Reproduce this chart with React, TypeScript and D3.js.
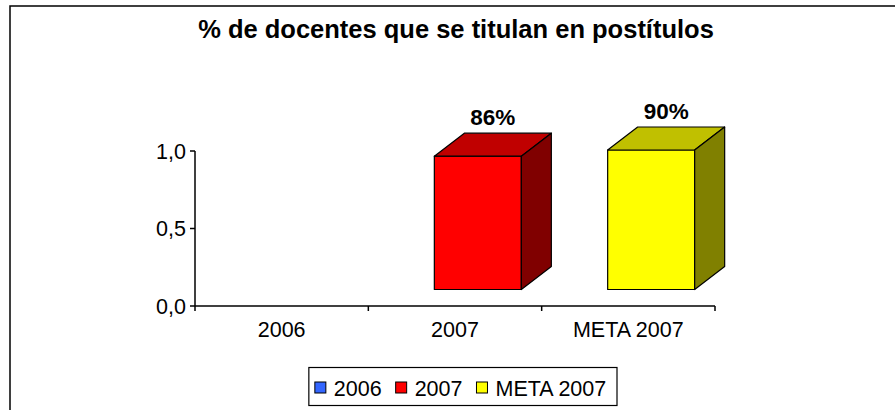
import React from "react";
import * as d3 from "d3";

const categories = ["2006", "2007", "META 2007"];
const values: (number | null)[] = [null, 0.86, 0.9];
const valueLabels = ["", "86%", "90%"];
const yTicks = [0, 0.5, 1.0];
const yTickLabels = ["0,0", "0,5", "1,0"];
const frontColors = ["#3366FF", "#FF0000", "#FFFF00"];
const topColors = ["#2050C0", "#C00000", "#C0C000"];
const sideColors = ["#183a90", "#800000", "#808000"];
const title = "% de docentes que se titulan en postítulos";

const W = 895;
const H = 410;
const FONT = "'Liberation Sans', Arial, Helvetica, sans-serif";

const charW: Record<string, number> = {
  "0": 0.556, "1": 0.556, "2": 0.556, "3": 0.556, "4": 0.556, "5": 0.556,
  "6": 0.556, "7": 0.556, "8": 0.556, "9": 0.556, " ": 0.278,
  M: 0.833, E: 0.667, T: 0.611, A: 0.667,
};
function textWidth(s: string, size: number) {
  let w = 0;
  for (const ch of s) w += charW[ch] ?? 0.6;
  return w * size;
}

export default function App() {
  const x = d3.scaleBand<string>().domain(categories).range([195, 715]).padding(0);
  const y = d3.scaleLinear().domain([0, 1]).range([306, 151]);
  const depthX = 30;
  const depthY = -23;
  const lift = 16.5;
  const barOffset = 66;
  const barW = 87;

  const legendFont = 21.5;
  const sq = 11;
  const gapSq = 8;
  const gapItem = 14;
  const padL = 6;
  const itemsW = categories.reduce(
    (acc, c, i) => acc + sq + gapSq + textWidth(c, legendFont) + (i < categories.length - 1 ? gapItem : 0),
    0
  );
  const legendW = itemsW + padL * 2 + 2;
  const legendX = 617 - legendW;
  let cursor = legendX + padL;
  const legendPos = categories.map((c) => {
    const p = cursor;
    cursor += sq + gapSq + textWidth(c, legendFont) + gapItem;
    return p;
  });

  return (
    <svg width={W} height={H} style={{ display: "block", position: "absolute", left: 0, top: 0 }}>
      <rect x={0} y={0} width={W} height={H} fill="#fff" />
      <rect x={10} y={6} width={900} height={420} fill="#fff" stroke="#000" strokeWidth={1.5} />
      <text x={456} y={38} textAnchor="middle" fontFamily={FONT} fontWeight="bold" fontSize={25.5}>
        {title}
      </text>

      {/* Y axis */}
      <line x1={195} x2={195} y1={y(1)} y2={y(0)} stroke="#000" strokeWidth={1.5} />
      {yTicks.map((t, i) => (
        <g key={i}>
          <line x1={190} x2={195} y1={y(t)} y2={y(t)} stroke="#000" strokeWidth={1.5} />
          <text x={186} y={y(t) + 7.5} textAnchor="end" fontFamily={FONT} fontSize={21.5}>
            {yTickLabels[i]}
          </text>
        </g>
      ))}

      {/* X axis */}
      <line x1={195} x2={715} y1={y(0)} y2={y(0)} stroke="#000" strokeWidth={1.5} />
      {categories.map((c) => (
        <g key={c}>
          <line x1={x(c)! + x.bandwidth()} x2={x(c)! + x.bandwidth()} y1={y(0)} y2={y(0) + 5} stroke="#000" strokeWidth={1.5} />
          <text x={x(c)! + x.bandwidth() / 2} y={y(0) + 31} textAnchor="middle" fontFamily={FONT} fontSize={21.5}>
            {c}
          </text>
        </g>
      ))}
      <line x1={195} x2={195} y1={y(0)} y2={y(0) + 5} stroke="#000" strokeWidth={1.5} />

      {/* Bars */}
      {categories.map((c, i) => {
        const v = values[i];
        if (v == null) return null;
        const x0 = x(c)! + barOffset;
        const x1 = x0 + barW;
        const yt = y(v) - lift;
        const yb = y(0) - lift;
        const top = `M${x0},${yt} L${x0 + depthX},${yt + depthY} L${x1 + depthX},${yt + depthY} L${x1},${yt} Z`;
        const side = `M${x1},${yt} L${x1 + depthX},${yt + depthY} L${x1 + depthX},${yb + depthY} L${x1},${yb} Z`;
        return (
          <g key={c} stroke="#000" strokeWidth={1.2} strokeLinejoin="round">
            <rect x={x0} y={yt} width={barW} height={yb - yt} fill={frontColors[i]} />
            <path d={top} fill={topColors[i]} />
            <path d={side} fill={sideColors[i]} />
            <text
              x={x0 + barW / 2 + depthX / 2}
              y={yt - 31}
              textAnchor="middle"
              fontFamily={FONT}
              fontWeight="bold"
              fontSize={22.5}
              stroke="none"
              fill="#000"
            >
              {valueLabels[i]}
            </text>
          </g>
        );
      })}

      {/* Legend */}
      <rect x={legendX} y={367.5} width={legendW} height={38} fill="#fff" stroke="#000" strokeWidth={1.2} />
      {categories.map((c, i) => (
        <g key={c}>
          <rect x={legendPos[i]} y={382} width={sq} height={sq} fill={frontColors[i]} stroke="#000" strokeWidth={1} />
          <text x={legendPos[i] + sq + gapSq} y={395.5} fontFamily={FONT} fontSize={legendFont}>
            {c}
          </text>
        </g>
      ))}
    </svg>
  );
}
